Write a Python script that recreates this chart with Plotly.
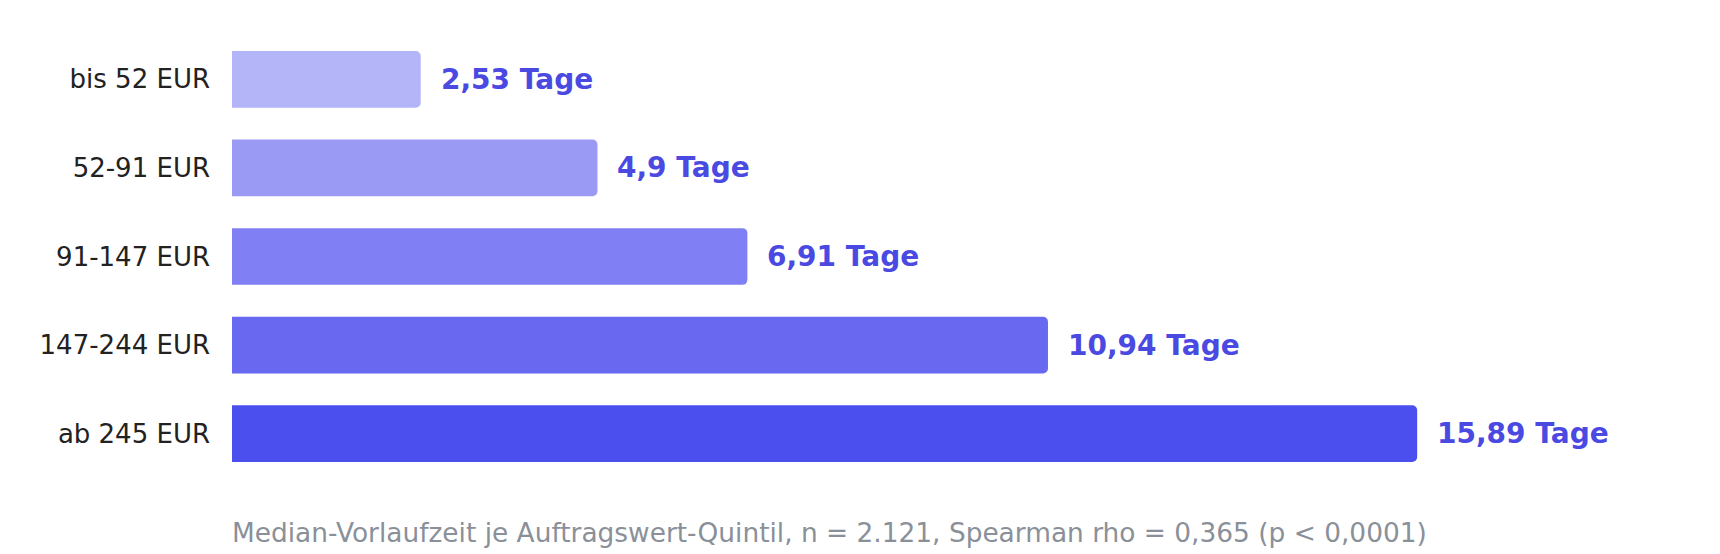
import plotly.graph_objects as go

categories = ['bis 52 EUR', '52-91 EUR', '91-147 EUR', '147-244 EUR', 'ab 245 EUR']
median_days = [2.53, 4.9, 6.91, 10.94, 15.89]
value_labels = ['2,53 Tage', '4,9 Tage', '6,91 Tage', '10,94 Tage', '15,89 Tage']
bar_colors = ['#b4b4f8', '#9a9af5', '#8080f4', '#6868f0', '#4b4fee']

footer = 'Median-Vorlaufzeit je Auftragswert-Quintil, n = 2.121, Spearman rho = 0,365 (p < 0,0001)'

data = [
    go.Bar(
        x=median_days,
        y=categories,
        orientation='h',
        marker=dict(color=bar_colors, cornerradius=5, line=dict(width=0)),
        hoverinfo='skip',
        showlegend=False
    )
]

# value labels right of each bar
annotations = [
    dict(
        x=v, y=c, text='<b>%s</b>' % t,
        xref='x', yref='y', xanchor='left', yanchor='middle',
        xshift=18, showarrow=False,
        font=dict(family='DejaVu Sans', size=28, color='#4a4ae2')
    )
    for v, c, t in zip(median_days, categories, value_labels)
]

annotations.append(dict(
    x=0, y=-0.122, xref='x', yref='paper',
    xanchor='left', yanchor='middle', showarrow=False,
    xshift=-2,
    text=footer,
    font=dict(family='DejaVu Sans', size=26.4, color='#8a9099')
))

# page body adds 8px, margins compensate for it
layout = go.Layout(
    width=1720,
    height=554,
    margin=dict(l=224, r=8, t=27, b=84, pad=0),
    paper_bgcolor='white',
    plot_bgcolor='white',
    bargap=0.36,
    font=dict(family='DejaVu Sans', size=26, color='#222222'),
    xaxis=dict(
        range=[0, 19.95],
        showgrid=False,
        zeroline=False,
        showline=False,
        showticklabels=False,
        ticks=''
    ),
    yaxis=dict(
        categoryorder='array',
        categoryarray=categories,
        autorange='reversed',
        showgrid=False,
        zeroline=False,
        showline=False,
        ticks='',
        ticklabelstandoff=21,
        tickfont=dict(family='DejaVu Sans', size=26, color='#222222')
    ),
    annotations=annotations
)

fig = go.Figure(data=data, layout=layout)
fig.write_html('out.html')
